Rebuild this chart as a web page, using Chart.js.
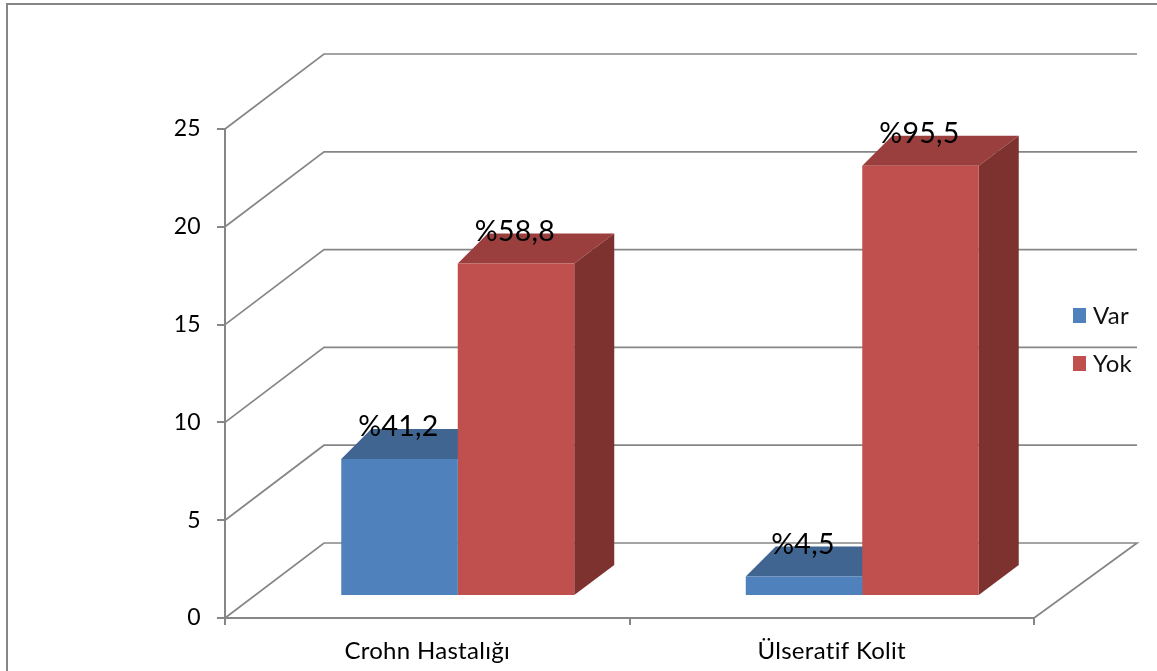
<!DOCTYPE html>
<html>
<head>
<meta charset="utf-8">
<script src="https://cdn.jsdelivr.net/npm/chart.js@4"></script>
<style>
html, body { margin: 0; padding: 0; background: #fff; overflow: hidden; }
#wrap { position: absolute; left: 0; top: 0; width: 1157px; height: 671px; }
#frame { position: absolute; left: 6px; top: 3px; right: 0; bottom: 0; border-left: 2px solid #868686; border-top: 2px solid #868686; }
</style>
</head>
<body>
<div id="wrap">
  <div id="frame"></div>
  <canvas id="chartBar" width="1157" height="671"></canvas>
</div>
<script>
var categories = ['Crohn Hastalığı', 'Ülseratif Kolit'];
var varValues = [7, 1];
var yokValues = [17, 22];
var varLabels = ['%41,2', '%4,5'];
var yokLabels = ['%58,8', '%95,5'];
var yTicks = [0, 5, 10, 15, 20, 25];

var FONT = 'Lato, "Open Sans", sans-serif';
var LINE = '#868686';

// depth of the back wall and of the bars, in px
var wall = {dx: 99, dy: 75};
var barShift = {dx: 30.5, dy: 22};
var barDepth = {left: 30, right: 40, up: 30};

function shape(ctx, points, color) {
    ctx.fillStyle = color;
    ctx.beginPath();
    points.forEach(function (p, i) {
        if (i === 0) ctx.moveTo(p[0], p[1]); else ctx.lineTo(p[0], p[1]);
    });
    ctx.closePath();
    ctx.fill();
}

/* 3D 바 차트: 벽면, 윗면, 옆면 */
var box3d = {
    id: 'box3d',
    beforeDraw: function (chart) {
        // a little tracking, also stops Lato joining "ti" into a ligature
        chart.ctx.letterSpacing = '0.3px';
    },
    beforeDatasetsDraw: function (chart) {
        var ctx = chart.ctx;
        var area = chart.chartArea;
        var y = chart.scales.y;

        // wall gridlines and floor
        ctx.save();
        ctx.strokeStyle = LINE;
        ctx.lineWidth = 1.7;
        yTicks.forEach(function (t) {
            var py = y.getPixelForValue(t);
            ctx.beginPath();
            ctx.moveTo(area.left, py);
            ctx.lineTo(area.left + wall.dx, py - wall.dy);
            ctx.lineTo(1137, py - wall.dy);
            if (t === 0) ctx.lineTo(area.right, py);
            ctx.stroke();
        });

        // top and side faces go under every front face
        chart.data.datasets.forEach(function (ds, i) {
            chart.getDatasetMeta(i).data.forEach(function (bar) {
                var l = bar.x - bar.width / 2 + barShift.dx;
                var r = bar.x + bar.width / 2 + barShift.dx;
                var t = bar.y - barShift.dy;
                var b = bar.base - barShift.dy;
                shape(ctx, [[l, t], [l + barDepth.left, t - barDepth.up], [r + barDepth.right, t - barDepth.up], [r, t]], ds.topColor);
                shape(ctx, [[r, t], [r + barDepth.right, t - barDepth.up], [r + barDepth.right, b - barDepth.up], [r, b]], ds.sideColor);
            });
        });
        ctx.restore();

        // front faces are the library's own bars, moved into the depth
        ctx.save();
        ctx.translate(barShift.dx, -barShift.dy);
    },
    afterDatasetsDraw: function (chart) {
        var ctx = chart.ctx;
        ctx.restore();

        // value labels
        ctx.save();
        ctx.font = '28.5px ' + FONT;
        ctx.fillStyle = '#000';
        ctx.textAlign = 'center';
        ctx.textBaseline = 'middle';
        chart.data.datasets.forEach(function (ds, i) {
            chart.getDatasetMeta(i).data.forEach(function (bar, j) {
                ctx.fillText(ds.valueLabels[j], bar.x + barShift.dx - 1, bar.y - barShift.dy - 32);
            });
        });

        // legend
        ctx.font = '24px ' + FONT;
        ctx.textAlign = 'left';
        chart.data.datasets.forEach(function (ds, i) {
            var ly = 315 + i * 48;
            ctx.fillStyle = ds.backgroundColor;
            ctx.fillRect(1073, ly - 7, 13, 15);
            ctx.fillStyle = '#111';
            ctx.fillText(ds.label, 1093, ly + 1);
        });
        ctx.restore();
    }
};

var chartBar = document.getElementById('chartBar').getContext('2d');
new Chart(chartBar, {
    type: 'bar',
    plugins: [box3d],
    data: {
        labels: categories,
        datasets: [
            {
                label: 'Var',
                data: varValues,
                valueLabels: varLabels,
                backgroundColor: '#4F81BD',
                topColor: '#3F6590',
                sideColor: '#335276'
            },
            {
                label: 'Yok',
                data: yokValues,
                valueLabels: yokLabels,
                backgroundColor: '#C0504D',
                topColor: '#9A3F3D',
                sideColor: '#7D3230'
            }
        ]
    },
    options: {
        responsive: false,
        animation: false,
        layout: {padding: {left: 0, top: 129, right: 123, bottom: 0}},
        categoryPercentage: 0.576,
        barPercentage: 1,
        plugins: {
            legend: {display: false},
            title: {display: false},
            tooltip: {enabled: false}
        },
        scales: {
            x: {
                afterFit: function (scale) { scale.height = 53; },
                border: {color: LINE, width: 2},
                grid: {drawOnChartArea: false, color: LINE, lineWidth: 2, tickLength: 7},
                ticks: {color: '#000', font: {family: FONT, size: 24}, padding: 12, maxRotation: 0}
            },
            y: {
                min: 0,
                max: 25,
                afterBuildTicks: function (scale) {
                    scale.ticks = yTicks.map(function (v) { return {value: v}; });
                },
                afterFit: function (scale) { scale.width = 225; },
                border: {color: LINE, width: 2},
                grid: {drawOnChartArea: false, color: LINE, lineWidth: 2, tickLength: 8},
                ticks: {color: '#000', font: {family: FONT, size: 23}, padding: 16}
            }
        }
    }
});
</script>
</body>
</html>
